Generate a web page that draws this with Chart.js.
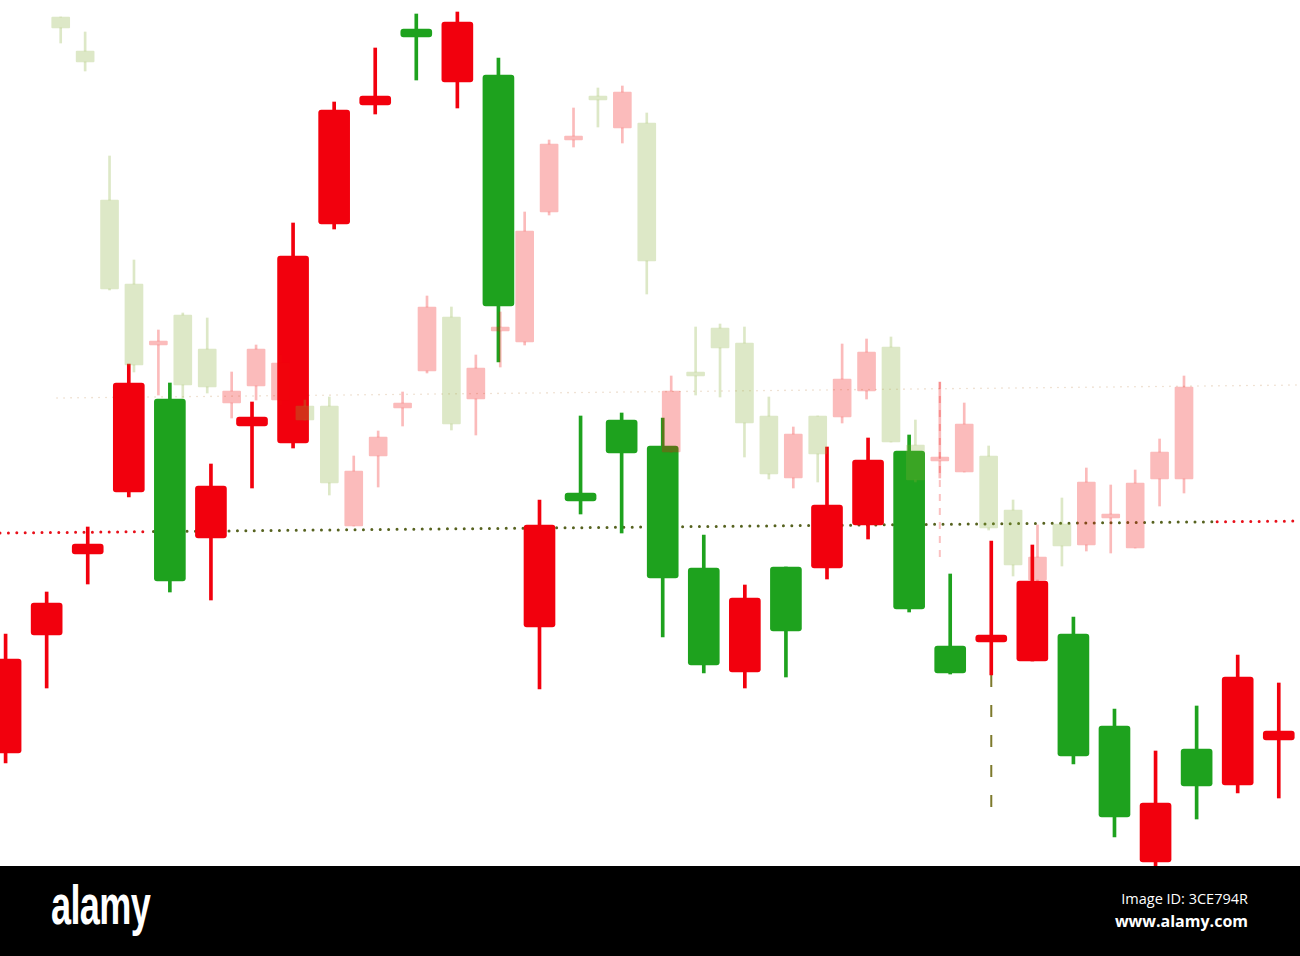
<!DOCTYPE html>
<html>
<head>
<meta charset="utf-8">
<script src="https://cdn.jsdelivr.net/npm/chart.js"></script>
<style>
  html, body { margin: 0; padding: 0; background: #fff; }
  #wrap { position: absolute; left: 0; top: 0; width: 1300px; height: 866px; }
  #footer { position: absolute; left: 0; top: 866px; width: 1300px; height: 90px; background: #000; color: #fff; }
  #footer .logo { position: absolute; left: 51px; top: 6px; font: bold 56px "Liberation Sans", sans-serif; letter-spacing: -1px; transform: scaleX(0.645); transform-origin: left top; }
  #footer .id1 { position: absolute; right: 52px; top: 23px; font: 14.5px "Open Sans", sans-serif; }
  #footer .id2 { position: absolute; right: 52px; top: 44px; font: bold 16px "Open Sans", sans-serif; }
</style>
</head>
<body>
<div id="wrap"><canvas id="candles"></canvas></div>
<div id="footer">
  <div class="logo">alamy</div>
  <div class="id1">Image ID: 3CE794R</div>
  <div class="id2">www.alamy.com</div>
</div>
<script>
// bold (front) candles
const boldOpen  = [147, 265, 346, 408, 501, 362, 474, 457, 676, 795, 871, 818, 825, 273, 407, 480, 454, 332, 228, 333, 332, 375, 449, 254, 258, 239, 266, 174, 38, 151, 115, 160];
const boldClose = [241, 297, 356, 517, 319, 414, 483, 644, 790, 804, 863, 878, 594, 375, 399, 447, 322, 235, 302, 269, 395, 440, 291, 227, 265, 319, 144, 83, 97, 114, 223, 169];
const boldHigh  = [266, 308, 373, 536, 517, 436, 498, 677, 798, 852, 886, 888, 842, 400, 484, 487, 482, 365, 315, 333, 453, 462, 465, 326, 359, 355, 283, 191, 149, 194, 245, 217];
const boldLow   = [137, 212, 316, 403, 308, 300, 412, 452, 671, 786, 820, 792, 538, 211, 386, 367, 263, 227, 212, 223, 321, 361, 288, 226, 225, 239, 136, 63, 34, 81, 107, 102];

// faded (background) candles
const fadedOpen  = [883, 849, 700, 616, 555, 585, 551, 497, 514, 500, 494, 494, 374, 444, 492, 529, 583, 501, 569, 558, 688, 760, 804, 772, 777, 448, 528, 572, 557, 484, 422, 484, 483, 509, 553, 455, 439, 428, 444, 390, 320, 376, 355, 382, 352, 421, 421];
const fadedClose = [872, 838, 611, 535, 559, 515, 513, 509, 551, 537, 480, 417, 429, 463, 497, 593, 476, 532, 573, 669, 756, 764, 800, 808, 639, 509, 524, 552, 477, 426, 466, 446, 521, 548, 458, 420, 443, 476, 372, 335, 343, 354, 418, 386, 417, 448, 513];
const fadedHigh  = [883, 868, 744, 640, 570, 587, 582, 528, 555, 545, 500, 503, 444, 469, 508, 604, 593, 545, 588, 688, 760, 792, 812, 814, 787, 524, 573, 576, 573, 503, 473, 484, 556, 561, 563, 480, 518, 497, 454, 400, 375, 402, 432, 415, 430, 461, 524];
const fadedLow   = [857, 829, 610, 528, 505, 502, 507, 482, 500, 495, 480, 405, 374, 413, 474, 527, 470, 465, 533, 555, 685, 753, 773, 757, 606, 448, 505, 503, 443, 421, 412, 418, 477, 501, 458, 418, 422, 428, 370, 324, 318, 334, 349, 347, 352, 394, 407];

// dotted price levels (left end, right end)
const boldLevel = [367, 379];
const fadedLevel = [502, 515];
// crosshair marks: faded candle 36, bold candle 24
const fadedCross = [518, 340];
const boldCross = [225, 82];

const RED = "#f2000d", GREEN = "#1ea21e";
const PINK = "rgba(241,9,9,0.28)", SAGE = "rgba(134,173,55,0.28)";

const pick = (open, close, up, down) => open.map((o, i) => (close[i] >= o ? up : down));
const bodies = (open, close) => open.map((o, i) => ({ x: i, y: [o, close[i]] }));
const fullWicks = (low, high) => low.map((l, i) => ({ x: i, y: [l, high[i]] }));
const upperWicks = (open, close, high) => high.map((h, i) => ({ x: i, y: [Math.max(open[i], close[i]), h] }));
const lowerWicks = (open, close, low) => low.map((l, i) => ({ x: i, y: [l, Math.min(open[i], close[i])] }));

const xbMin = -0.136, xbMax = 31.517;
const xfMin = -2.486, xfMax = 50.75;

// point on the bold level line at bold index x
const levelAt = (x) => ({ x: x, y: boldLevel[0] + (boldLevel[1] - boldLevel[0]) * (x - xbMin) / (xbMax - xbMin) });
const redPart = [levelAt(xbMin), levelAt(3.5), { x: 16.5, y: null }, levelAt(29.5), levelAt(xbMax)];
const olivePart = [levelAt(3.6), levelAt(29.4)];

const boldColors = pick(boldOpen, boldClose, RED, GREEN);
const fadedColors = pick(fadedOpen, fadedClose, PINK, SAGE);

const ctx = document.getElementById("candles").getContext("2d");

new Chart(ctx, {
  type: "bar",
  data: {
    datasets: [
      {
        type: "line", xAxisID: "xf", order: 20,
        data: [{ x: -0.15, y: fadedLevel[0] }, { x: xfMax, y: fadedLevel[1] }],
        borderColor: "#e9d6c2", borderWidth: 1.6, borderDash: [0, 7], borderCapStyle: "round", pointRadius: 0,
      },
      {
        type: "line", xAxisID: "xb", order: 19, spanGaps: false,
        data: redPart,
        borderColor: "#e8101a", borderWidth: 3, borderDash: [0, 8.4], borderCapStyle: "round", pointRadius: 0,
      },
      {
        type: "line", xAxisID: "xb", order: 18,
        data: olivePart,
        borderColor: "#56621f", borderWidth: 3, borderDash: [0, 8.4], borderCapStyle: "round", pointRadius: 0,
      },
      {
        type: "line", xAxisID: "xb", order: 17,
        data: [{ x: 24, y: boldCross[0] }, { x: 24, y: boldCross[1] }],
        borderColor: "#7d7a2c", borderWidth: 2, borderDash: [12, 18], pointRadius: 0,
      },
      {
        xAxisID: "xb", order: 6, grouped: false,
        data: fullWicks(boldLow, boldHigh),
        backgroundColor: boldColors, barThickness: 3,
      },
      {
        xAxisID: "xb", order: 5, grouped: false,
        data: bodies(boldOpen, boldClose),
        backgroundColor: boldColors, barThickness: 31, borderRadius: 3, borderSkipped: false,
      },
      {
        type: "line", xAxisID: "xf", order: 4,
        data: [{ x: 36, y: fadedCross[0] }, { x: 36, y: fadedCross[1] }],
        borderColor: "rgba(241,9,9,0.25)", borderWidth: 2, borderDash: [7, 7], pointRadius: 0,
      },
      {
        xAxisID: "xf", order: 3, grouped: false,
        data: upperWicks(fadedOpen, fadedClose, fadedHigh),
        backgroundColor: fadedColors, barThickness: 2,
      },
      {
        xAxisID: "xf", order: 2, grouped: false,
        data: lowerWicks(fadedOpen, fadedClose, fadedLow),
        backgroundColor: fadedColors, barThickness: 2,
      },
      {
        xAxisID: "xf", order: 1, grouped: false,
        data: bodies(fadedOpen, fadedClose),
        backgroundColor: fadedColors, barThickness: 18, borderRadius: 1, borderSkipped: false,
      },
    ],
  },
  options: {
    responsive: true,
    maintainAspectRatio: false,
    animation: false,
    layout: { padding: 0 },
    plugins: { legend: { display: false }, tooltip: { enabled: false } },
    scales: {
      xb: { type: "linear", min: xbMin, max: xbMax, offset: false, display: false },
      xf: { type: "linear", min: xfMin, max: xfMax, offset: false, display: false },
      y: { type: "linear", min: 34, max: 900, display: false },
    },
  },
});
</script>
</body>
</html>
